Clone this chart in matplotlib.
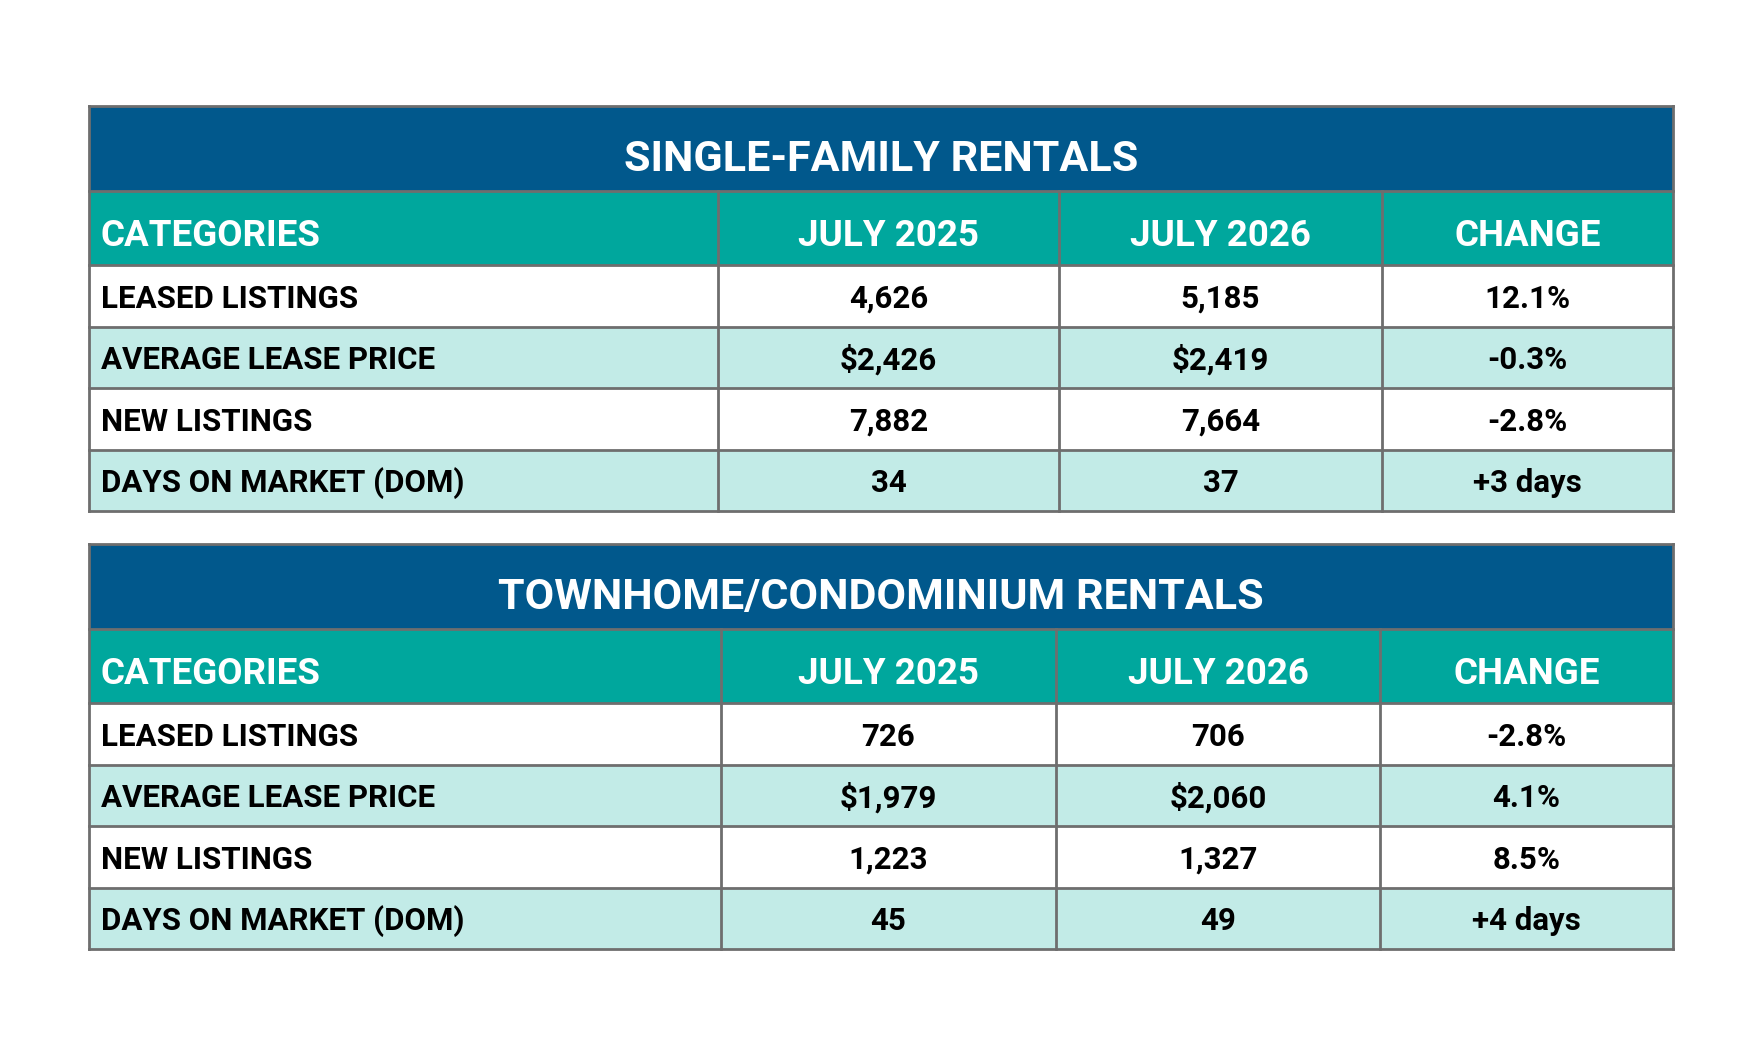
import matplotlib.pyplot as plt
from matplotlib.patches import Rectangle
from matplotlib import font_manager

# table contents
sections = ["SINGLE-FAMILY RENTALS", "TOWNHOME/CONDOMINIUM RENTALS"]
columns = ["CATEGORIES", "JULY 2025", "JULY 2026", "CHANGE"]
categories = ["LEASED LISTINGS", "AVERAGE LEASE PRICE", "NEW LISTINGS", "DAYS ON MARKET (DOM)"]

sf_2025 = ["4,626", "$2,426", "7,882", "34"]
sf_2026 = ["5,185", "$2,419", "7,664", "37"]
sf_change = ["12.1%", "-0.3%", "-2.8%", "+3 days"]

th_2025 = ["726", "$1,979", "1,223", "45"]
th_2026 = ["706", "$2,060", "1,327", "49"]
th_change = ["-2.8%", "4.1%", "8.5%", "+4 days"]

tables = [
    (sections[0], [sf_2025, sf_2026, sf_change]),
    (sections[1], [th_2025, th_2026, th_change]),
]

# look
BLUE = "#01588c"
TEAL = "#00a79d"
LIGHT = "#c2ebe7"
LINE = "#6e6e6e"

names = {f.name for f in font_manager.fontManager.ttflist}
FONT = "DejaVu Sans"
for cand in ["Roboto", "Lato"]:
    if cand in names:
        FONT = cand
        break

W, H = 1763, 1058
fig = plt.figure(figsize=(W / 100, H / 100), dpi=100)
ax = fig.add_axes([0, 0, 1, 1])
ax.set_xlim(0, W)
ax.set_ylim(H, 0)
ax.axis("off")

left, right = 89, 1673
col_edges = [[left, 718, 1059, 1382, right], [left, 721, 1056, 1380, right]]
tops = [106, 544]
title_h, head_h, row_h = 85, 74, 61.5


def cap_text(x, yc, s, size, ha, color):
    # baseline placed so the capitals sit centred on yc (cap height ~0.71 em)
    cap_px = size * 100 / 72 * 0.71
    ax.text(x, yc + cap_px / 2, s, ha=ha, va="baseline", color=color,
            fontsize=size, fontweight="bold", family=[FONT, "DejaVu Sans"])


for t, (title, values) in enumerate(tables):
    top = tops[t]
    edges = col_edges[t]

    # title band
    ax.add_patch(Rectangle((left, top), right - left, title_h, facecolor=BLUE,
                           edgecolor="none"))
    cap_text((left + right) / 2, top + title_h / 2 + 7, title, 31, "center", "white")

    # header row
    y0 = top + title_h
    ax.add_patch(Rectangle((left, y0), right - left, head_h, facecolor=TEAL,
                           edgecolor="none"))
    for c, name in enumerate(columns):
        if c == 0:
            cap_text(edges[0] + 12, y0 + head_h / 2 + 5, name, 26.5, "left", "white")
        else:
            cap_text((edges[c] + edges[c + 1]) / 2, y0 + head_h / 2 + 5, name, 26.5,
                     "center", "white")

    # body rows
    y = y0 + head_h
    for r, cat in enumerate(categories):
        fill = "white" if r % 2 == 0 else LIGHT
        ax.add_patch(Rectangle((left, y), right - left, row_h, facecolor=fill,
                               edgecolor="none"))
        cap_text(edges[0] + 12, y + row_h / 2 + 1, cat, 22.5, "left", "black")
        for c in range(3):
            cap_text((edges[c + 1] + edges[c + 2]) / 2, y + row_h / 2 + 1, values[c][r],
                     22.5, "center", "black")
        y += row_h
    bottom = y

    # grid lines
    lw = 2
    ax.plot([left, right], [top, top], color=LINE, lw=lw)
    ax.plot([left, right], [y0, y0], color=LINE, lw=lw)
    yy = y0 + head_h
    for r in range(len(categories) + 1):
        ax.plot([left, right], [yy, yy], color=LINE, lw=lw)
        yy += row_h
    ax.plot([left, left], [top, bottom], color=LINE, lw=lw)
    ax.plot([right, right], [top, bottom], color=LINE, lw=lw)
    for x in edges[1:-1]:
        ax.plot([x, x], [y0, bottom], color=LINE, lw=lw)

fig.savefig("out.png", dpi=100, facecolor="white")
